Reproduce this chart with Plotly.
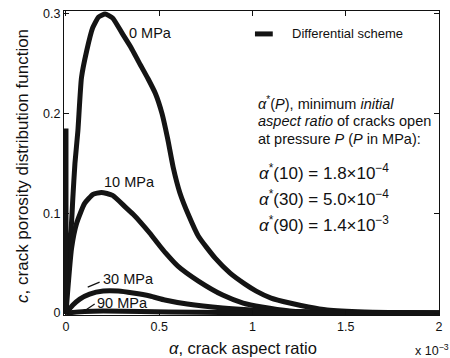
import plotly.graph_objects as go

# crack aspect ratio alpha in units of 1e-3, crack porosity distribution c
a0 = [0, 0.011, 0.027, 0.037, 0.048, 0.064, 0.083, 0.111, 0.143, 0.175, 0.21, 0.25, 0.30, 0.35,
      0.39, 0.44, 0.48, 0.515, 0.545, 0.575, 0.61, 0.66, 0.71, 0.80, 0.88, 0.96, 1.02, 1.1, 1.2,
      1.3, 1.4, 1.6, 2.0]
c0 = [0, 0.063, 0.083, 0.116, 0.150, 0.183, 0.236, 0.263, 0.286, 0.297, 0.300, 0.296, 0.281, 0.266,
      0.252, 0.235, 0.220, 0.200, 0.175, 0.146, 0.121, 0.097, 0.077, 0.055, 0.040, 0.029, 0.022,
      0.015, 0.010, 0.006, 0.003, 0.001, 0.0]

a10 = [0, 0.03, 0.057, 0.10, 0.145, 0.19, 0.25, 0.32, 0.36, 0.40, 0.45, 0.50, 0.535, 0.6, 0.71,
       0.84, 0.95, 1.05, 1.2, 1.4, 2.0]
c10 = [0, 0.065, 0.090, 0.110, 0.119, 0.121, 0.118, 0.106, 0.099, 0.091, 0.080, 0.068, 0.060,
       0.047, 0.032, 0.018, 0.010, 0.006, 0.002, 0.0005, 0.0]
spike_a = [0, 0]
spike_c = [0, 0.185]

a30 = [0, 0.037, 0.074, 0.127, 0.2, 0.28, 0.36, 0.45, 0.53, 0.65, 0.84, 1.0, 1.2, 1.5, 2.0]
c30 = [0, 0.008, 0.014, 0.019, 0.022, 0.022, 0.020, 0.017, 0.013, 0.009, 0.005, 0.003, 0.0015,
       0.0005, 0.0]

a90 = [0, 0.1, 0.2, 0.4, 0.7, 1.0, 2.0]
c90 = [0, 0.0015, 0.002, 0.0015, 0.0007, 0.0003, 0.0]

x_ticks = [0, 0.5, 1, 1.5, 2]
x_ticktext = ["0", "0.5", "1", "1.5", "2"]
y_ticks = [0, 0.1, 0.2, 0.3]
y_ticktext = ["0", "0.1", "0.2", "0.3"]

curve_labels = ["0 MPa", "10 MPa", "30 MPa", "90 MPa"]
eq_texts = ["<i>α</i><sup>*</sup>(10) = 1.8×10<sup>−4</sup>",
            "<i>α</i><sup>*</sup>(30) = 5.0×10<sup>−4</sup>",
            "<i>α</i><sup>*</sup>(90) = 1.4×10<sup>−3</sup>"]

FONT = "Liberation Sans, Arial, sans-serif"
LC = "#141414"
LW = 5

fig = go.Figure()
for xs, ys, nm in [(a0, c0, "0 MPa"), (a10, c10, "10 MPa"), (a30, c30, "30 MPa"),
                   (a90, c90, "90 MPa")]:
    fig.add_trace(go.Scatter(x=xs, y=ys, mode="lines", name=nm, showlegend=False,
                             line=dict(color=LC, width=LW, shape="spline", smoothing=0.5)))
fig.add_trace(go.Scatter(x=spike_a, y=spike_c, mode="lines", showlegend=False,
                         line=dict(color=LC, width=LW)))

def px2x(px):
    return (px - 66) / 188.5

def py2y(py):
    return (313 - py) / 1000.0

ann = []
# curve labels
for lab, px, py in zip(curve_labels, [128, 102, 101, 95], [32, 182, 279, 303]):
    ann.append(dict(x=px2x(px), y=py2y(py), xref="x", yref="y", text=lab, showarrow=False,
                    xanchor="left", yanchor="middle", font=dict(size=14.5, color="#111", family=FONT)))
# description lines
desc = ["<i>α</i><sup>*</sup>(<i>P</i>), minimum <i>initial</i>",
        "<i>aspect ratio</i> of cracks open",
        "at pressure <i>P</i> (<i>P</i> in MPa):"]
for t, py in zip(desc, [102, 120, 138]):
    ann.append(dict(x=px2x(258), y=py2y(py), xref="x", yref="y", text=t, showarrow=False,
                    xanchor="left", yanchor="middle", font=dict(size=14.5, color="#111", family=FONT)))
for t, py in zip(eq_texts, [172, 198, 224]):
    ann.append(dict(x=px2x(259), y=py2y(py), xref="x", yref="y", text=t, showarrow=False,
                    xanchor="left", yanchor="middle", font=dict(size=17, color="#111", family=FONT)))
# legend text
ann.append(dict(x=px2x(292), y=py2y(33), xref="x", yref="y", text="Differential scheme",
                showarrow=False, xanchor="left", yanchor="middle",
                font=dict(size=13, color="#111", family=FONT)))
# axis titles
ann.append(dict(x=(245 - 64) / 379, y=(315 - 348) / 305, xref="paper", yref="paper",
                text="<i>α</i>, crack aspect ratio", showarrow=False, xanchor="center",
                yanchor="middle", font=dict(size=16.5, color="#111", family=FONT)))
ann.append(dict(x=(22 - 64) / 379, y=(315 - 165) / 305, xref="paper", yref="paper",
                text="<i>c</i>, crack porosity distribution function", showarrow=False,
                textangle=-90, xanchor="center", yanchor="middle",
                font=dict(size=17, color="#111", family=FONT)))
ann.append(dict(x=(417 - 64) / 379, y=(315 - 350) / 305, xref="paper", yref="paper",
                text="x 10<sup>−3</sup>", showarrow=False, xanchor="left", yanchor="middle",
                font=dict(size=12.5, color="#111", family=FONT)))

shapes = [
    dict(type="line", xref="x", yref="y", x0=px2x(257), x1=px2x(275), y0=py2y(33), y1=py2y(33),
         line=dict(color=LC, width=LW)),
    dict(type="line", xref="x", yref="y", x0=px2x(88), x1=px2x(100), y0=py2y(287), y1=py2y(282),
         line=dict(color="#111", width=1.2)),
    dict(type="line", xref="x", yref="y", x0=px2x(83), x1=px2x(95), y0=py2y(312), y1=py2y(304),
         line=dict(color="#111", width=1.2)),
]

fig.update_layout(
    width=450, height=358,
    margin=dict(l=64, r=7, t=10, b=43),
    paper_bgcolor="white", plot_bgcolor="white",
    font=dict(family=FONT, color="#111"),
    annotations=ann, shapes=shapes,
    xaxis=dict(range=[-0.0106, 2.0], tickvals=x_ticks, ticktext=x_ticktext, ticks="inside",
               ticklen=5, tickwidth=1, tickcolor="#111", showline=True, linecolor="#111",
               linewidth=1, mirror="ticks", showgrid=False, zeroline=False,
               tickfont=dict(size=12.5, color="#111")),
    yaxis=dict(range=[-0.002, 0.303], tickvals=y_ticks, ticktext=y_ticktext, ticks="inside",
               ticklen=5, tickwidth=1, tickcolor="#111", showline=True, linecolor="#111",
               linewidth=1, mirror="ticks", showgrid=False, zeroline=False,
               tickfont=dict(size=12.5, color="#111")),
)

fig.write_html("out.html")
